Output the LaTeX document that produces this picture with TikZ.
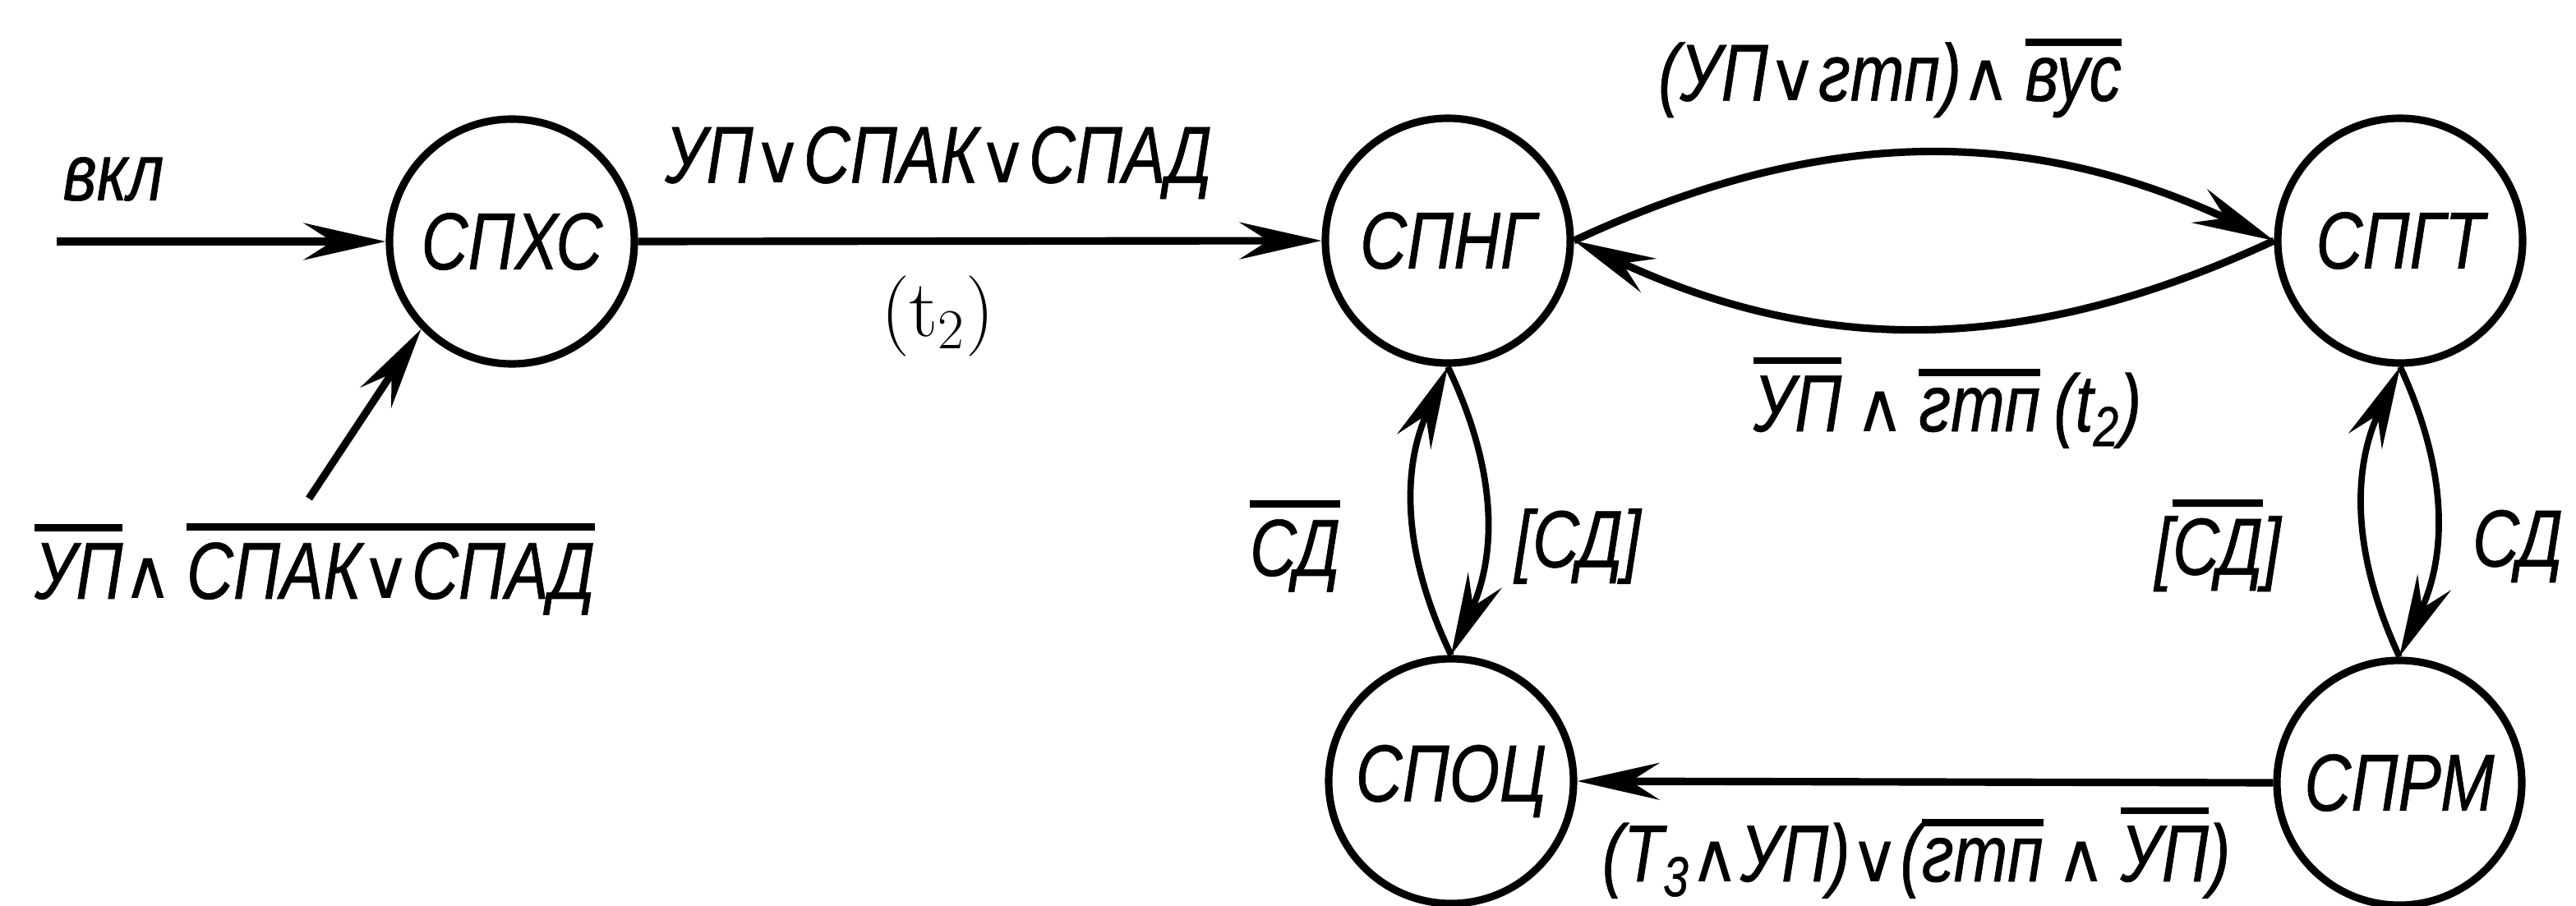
\documentclass[tikz,border=0pt]{standalone}
\usepackage{fontspec}
\usetikzlibrary{arrows.meta}
\newfontfamily\lblfont{Liberation Sans}[FakeStretch=0.8,FakeBold=0.6]
\newfontfamily\symfont{DejaVu Sans}[Scale=0.85]
\newcommand{\disj}{{\symfont ∨}}
\newcommand{\conj}{{\symfont ∧}}
\newcommand{\ovl}[1]{\vbox{\hrule height 2.5pt\kern 4pt\hbox{#1}}}
\begin{document}
\begin{tikzpicture}[x=1mm,y=1mm,
  >={Stealth[length=10mm,width=4.5mm,inset=3.5mm]},
  state/.style={draw,circle,minimum size=2.98cm,line width=2.6pt}]
\tikzstyle{every node}+=[inner sep=0pt,font=\lblfont\itshape\fontsize{28}{32}\selectfont]
\useasboundingbox (0,0) rectangle (313.5,-110.3);
\node [state] (sphs) at (62.3,-29.4) {СПХС};
\node [state] (spng) at (176.2,-29.3) {СПНГ};
\node [state] (spgt) at (292.1,-29.3) {СПГТ};
\node [state] (spoc) at (176.6,-95.1) {СПОЦ};
\node [state] (sprm) at (292.0,-95.3) {СПРМ};
\coordinate (in1) at (6.9,-29.4);
\coordinate (in2) at (37.6,-60.7);
\draw [black,line width=2.6pt,->] (in1) -- (sphs.west);
\draw (13.8,-21.8) node (lvkl) {вкл};
\draw [black,line width=2.6pt,->] (in2) -- (sphs.-136);
\draw (38.3,-69.3) node (lin) {\ovl{УП}\conj\,\ovl{СПАК\disj СПАД}};
\draw [black,line width=2.6pt,->] (sphs.east) -- (spng.west);
\draw (114.2,-19.8) node (lmain) {УП\disj СПАК\disj СПАД};
\draw (114.1,-38.5) node (lt2) {\rmfamily\upshape (t\textsubscript{2})};
\draw [black,line width=2.6pt,->] (spng.east) to [bend left=25] (spgt.west);
\draw (230.0,-9.5) node (ltop) {(УП\disj гтп)\conj\,\ovl{вус}};
\draw [black,line width=2.6pt,->] (spgt.west) to [bend left=25] (spng.east);
\draw (237.0,-49.0) node (lbot) {\ovl{УП}\,\conj\,\ovl{гтп}\,(t\textsubscript{2})};
\draw [black,line width=2.2pt,->] (spoc.north) to [bend left=25] (spng.south);
\draw [black,line width=2.2pt,->] (spng.south) to [bend left=25] (spoc.north);
\draw (157.6,-66.5) node (lsd1) {\ovl{СД}};
\draw (192.0,-66.5) node (lsd2) {[СД]};
\draw [black,line width=2.2pt,->] (sprm.north) to [bend left=25] (spgt.south);
\draw [black,line width=2.2pt,->] (spgt.south) to [bend left=25] (sprm.north);
\draw (269.9,-66.4) node (lsd3) {[\ovl{СД}]};
\draw (306.4,-66.5) node (lsd4) {СД};
\draw [black,line width=2.6pt,->] (sprm.west) -- (spoc.east);
\draw (233.2,-103.8) node (lret) {(T\textsubscript{3}\conj УП)\disj(\ovl{гтп}\,\conj\,\ovl{УП})};
\end{tikzpicture}
\end{document}
